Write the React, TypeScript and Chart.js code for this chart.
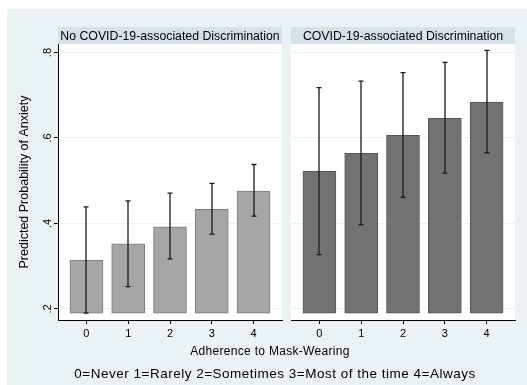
import React, { useEffect, useRef } from "react";
import { Chart, registerables } from "chart.js";

Chart.register(...registerables);

// ---------- data ----------
const categories = [0, 1, 2, 3, 4];
const yTickValues = [0.2, 0.4, 0.6, 0.8];

const noDiscMean = [0.314, 0.352, 0.392, 0.433, 0.476];
const noDiscLow = [0.19, 0.252, 0.317, 0.375, 0.417];
const noDiscHigh = [0.439, 0.453, 0.471, 0.494, 0.538];

const discMean = [0.522, 0.564, 0.606, 0.646, 0.684];
const discLow = [0.327, 0.397, 0.461, 0.518, 0.565];
const discHigh = [0.718, 0.733, 0.753, 0.777, 0.805];

const panelTitles = [
  "No COVID-19-associated Discrimination",
  "COVID-19-associated Discrimination",
];
const yTitle = "Predicted Probability of Anxiety";
const xTitle = "Adherence to Mask-Wearing";
const noteText = "0=Never 1=Rarely 2=Sometimes 3=Most of the time 4=Always";

const Y_MIN = 0.174;
const Y_MAX = 0.82;
const X_MIN = -0.68;
const X_MAX = 4.68;
const BAR_BASE = 0.19;

const FONT = "'Liberation Sans', Arial, Helvetica, sans-serif";
const BG = "#eaf2f3";
const STRIP = "#d5e3e9";

const stripPlugin = {
  id: "strip",
  beforeDraw(chart: any, _args: any, opts: any) {
    const { ctx, chartArea } = chart;
    const { left, top, right, bottom } = chartArea;
    ctx.save();
    ctx.fillStyle = "#ffffff";
    ctx.fillRect(left, top, right - left, bottom - top);
    ctx.fillStyle = STRIP;
    ctx.fillRect(left, top - 17, right - left, 17);
    ctx.fillStyle = "#000000";
    ctx.font = `12.3px ${FONT}`;
    ctx.textAlign = "center";
    ctx.textBaseline = "alphabetic";
    ctx.fillText(opts.text, (left + right) / 2, top - 4);
    ctx.restore();
  },
};

const errorBarPlugin = {
  id: "errorBars",
  afterDatasetsDraw(chart: any, _args: any, opts: any) {
    const { ctx } = chart;
    const x = chart.scales.x;
    const y = chart.scales.y;
    ctx.save();
    ctx.strokeStyle = "#1a1a1a";
    ctx.lineWidth = 1.3;
    opts.low.forEach((lo: number, i: number) => {
      const px = Math.round(x.getPixelForValue(categories[i]));
      const yl = y.getPixelForValue(lo);
      const yh = y.getPixelForValue(opts.high[i]);
      ctx.beginPath();
      ctx.moveTo(px, yl);
      ctx.lineTo(px, yh);
      ctx.moveTo(px - 2.5, yl);
      ctx.lineTo(px + 2.5, yl);
      ctx.moveTo(px - 2.5, yh);
      ctx.lineTo(px + 2.5, yh);
      ctx.stroke();
    });
    ctx.restore();
  },
};

type PanelProps = {
  title: string;
  mean: number[];
  low: number[];
  high: number[];
  fill: string;
  border: string;
  showY: boolean;
  left: number;
  width: number;
  padLeft: number;
  padRight: number;
};

function Panel(p: PanelProps) {
  const ref = useRef<HTMLCanvasElement | null>(null);
  useEffect(() => {
    if (!ref.current) return;
    const chart = new Chart(ref.current, {
      type: "bar",
      data: {
        datasets: [
          {
            data: categories.map((c, i) => ({ x: c, y: p.mean[i] })),
            backgroundColor: p.fill,
            borderColor: p.border,
            borderWidth: 1,
            borderSkipped: false,
            barThickness: 33,
            base: BAR_BASE,
          } as any,
        ],
      },
      plugins: [stripPlugin, errorBarPlugin],
      options: {
        animation: false,
        responsive: false,
        maintainAspectRatio: false,
        layout: {
          padding: { left: p.padLeft, right: p.padRight, top: 44, bottom: 0 },
        },
        plugins: {
          legend: { display: false },
          tooltip: { enabled: false },
          strip: { text: p.title },
          errorBars: { low: p.low, high: p.high },
        } as any,
        scales: {
          x: {
            type: "linear",
            min: X_MIN,
            max: X_MAX,
            offset: false,
            afterBuildTicks: (s: any) => {
              s.ticks = categories.map((v) => ({ value: v }));
            },
            afterFit: (s: any) => {
              s.height = 25;
            },
            grid: {
              display: true,
              offset: false,
              drawOnChartArea: false,
              drawTicks: true,
              tickLength: 4,
              tickColor: "#000000",
            },
            border: { display: true, color: "#000000", width: 1 },
            ticks: {
              color: "#000000",
              font: { family: FONT, size: 11 },
              padding: 3,
              maxRotation: 0,
              minRotation: 0,
              callback: (v: any) => String(v),
            },
          },
          y: {
            type: "linear",
            min: Y_MIN,
            max: Y_MAX,
            afterBuildTicks: (s: any) => {
              s.ticks = yTickValues.map((v) => ({ value: v }));
            },
            afterFit: (s: any) => {
              s.width = p.showY ? 50 : 0;
            },
            grid: {
              display: true,
              drawOnChartArea: true,
              drawTicks: p.showY,
              tickLength: 4,
              color: BG,
              tickColor: "#000000",
              lineWidth: 1,
            },
            border: { display: p.showY, color: "#000000", width: 1 },
            ticks: {
              display: p.showY,
              color: "#000000",
              font: { family: FONT, size: 11 },
              padding: 1,
              minRotation: 90,
              maxRotation: 90,
              crossAlign: "center",
              callback: (v: any) => String(Number(v).toFixed(1)).replace(/^0/, ""),
            },
            title: {
              display: p.showY,
              text: yTitle,
              color: "#000000",
              font: { family: FONT, size: 12.5 },
              padding: { top: 9, bottom: 0 },
            },
          },
        },
      } as any,
    });
    return () => chart.destroy();
  }, []);
  return (
    <canvas
      ref={ref}
      width={p.width}
      height={345}
      style={{
        position: "absolute",
        left: p.left,
        top: 0,
        width: p.width,
        height: 345,
      }}
    />
  );
}

export default function App() {
  return (
    <div
      style={{
        position: "absolute",
        left: 0,
        top: 0,
        width: 527,
        height: 385,
        background: "#ffffff",
        overflow: "hidden",
        fontFamily: FONT,
      }}
    >
      <div
        style={{
          position: "absolute",
          left: 7,
          top: 9,
          width: 520,
          height: 376,
          background: BG,
        }}
      />
      <Panel
        title={panelTitles[0]}
        mean={noDiscMean}
        low={noDiscLow}
        high={noDiscHigh}
        fill="#a6a6a6"
        border="#7b7b7b"
        showY={true}
        left={0}
        width={290}
        padLeft={8}
        padRight={8}
      />
      <Panel
        title={panelTitles[1]}
        mean={discMean}
        low={discLow}
        high={discHigh}
        fill="#717171"
        border="#565656"
        showY={false}
        left={285}
        width={242}
        padLeft={6}
        padRight={12}
      />
      <div
        style={{
          position: "absolute",
          left: 120,
          top: 344,
          width: 300,
          textAlign: "center",
          fontSize: "12px",
          lineHeight: "14px",
          letterSpacing: "0.3px",
          color: "#000",
          whiteSpace: "nowrap",
        }}
      >
        {xTitle}
      </div>
      <div
        style={{
          position: "absolute",
          left: 25,
          top: 366,
          width: 500,
          textAlign: "center",
          fontSize: "13.5px",
          lineHeight: "16px",
          letterSpacing: "0.5px",
          color: "#000",
          whiteSpace: "nowrap",
        }}
      >
        {noteText}
      </div>
    </div>
  );
}
